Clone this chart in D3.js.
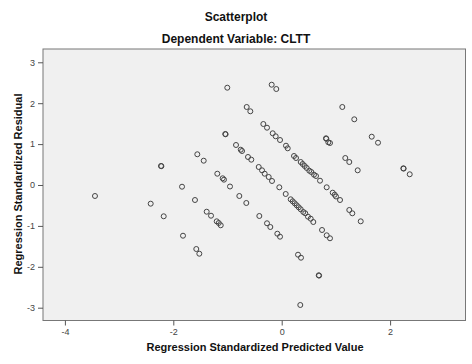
<!DOCTYPE html>
<html><head><meta charset="utf-8">
<script src="https://cdn.jsdelivr.net/npm/d3@7"></script>
<style>body{margin:0;background:#fff}text{font-family:"Liberation Sans",Arial,sans-serif}</style>
</head><body><svg id="c" width="472" height="364"></svg>
<script>
const title = "Scatterplot";
const subtitle = "Dependent Variable: CLTT";
const xTitle = "Regression Standardized Predicted Value";
const yTitle = "Regression Standardized Residual";
const xTicks = [-4, -2, 0, 2];
const yTicks = [-3, -2, -1, 0, 1, 2, 3];
const predicted = [
 -3.445,-2.417,-2.227,-2.22,-2.177,-1.839,-1.821,-1.600,-1.576,-1.520,-1.557,-1.439,-1.384,-1.304,-1.199,-1.162,-1.125,
 -1.188,-1.089,-1.065,-0.954,-1.041,-1.035,-1.004,-0.843,-0.756,-0.732,-0.622,-0.561,-0.782,-0.653,-0.646,-0.579,
 -0.424,-0.363,-0.314,-0.240,-0.179,-0.044,-0.413,-0.271,-0.210,-0.081,-0.031,-0.339,-0.271,-0.185,-0.100,-0.166,-0.111,-0.031,
 0.079,0.111,0.074,
 0.166,0.203,0.240,0.277,0.314,0.351,0.399,0.435,0.485,0.535,0.583,
 0.227,0.264,0.351,0.387,0.424,0.461,0.509,0.546,0.596,0.633,0.707,
 0.301,0.356,0.683,0.690,0.343,0.817,0.823,0.860,0.891,0.830,0.941,0.978,1.002,1.076,1.247,1.303,1.458,
 0.744,0.830,0.891,1.118,1.339,1.173,1.247,1.402,1.661,1.777,2.244,2.250,2.362
];
const residual = [
 -0.269,-0.457,0.465,0.46,-0.765,-0.042,-1.240,-0.367,-1.565,-1.680,0.751,0.594,-0.653,-0.751,-0.888,-0.929,-0.985,
 0.276,0.164,0.130,-0.037,1.247,1.240,2.379,0.978,0.863,0.831,0.685,0.619,-0.269,-0.440,1.907,1.802,
 0.440,0.359,0.276,0.196,0.098,-0.056,-0.758,-0.936,-1.027,-1.191,-1.264,1.491,1.401,2.452,2.347,1.264,1.191,1.100,
 0.961,0.897,-0.220,
 -0.350,-0.399,-0.447,-0.496,-0.545,-0.594,-0.660,-0.692,-0.775,-0.824,-0.905,
 0.709,0.660,0.562,0.513,0.465,0.416,0.350,0.318,0.252,0.220,0.105,
 -1.704,-1.778,-2.208,-2.215,-2.934,1.142,1.130,1.044,1.027,-0.056,-0.188,-0.237,-0.281,-0.367,-0.611,-0.692,-0.888,
 -1.100,-1.230,-1.303,1.907,1.606,0.660,0.562,0.359,1.181,1.034,0.408,0.400,0.262
];

const svg = d3.select("#c");
const L = 43, R = 465.5, T = 49, B = 320.5;
const x = d3.scaleLinear().domain([-4.404, 3.391]).range([L, R]);
const y = d3.scaleLinear().domain([-3.313, 3.325]).range([B, T]);

svg.append("rect").attr("x", L).attr("y", T).attr("width", R - L).attr("height", B - T)
  .attr("fill", "#f0f0f0").attr("stroke", "#777").attr("stroke-width", 1);

const xa = svg.append("g").attr("transform", `translate(0,${B})`)
  .call(d3.axisBottom(x).tickValues(xTicks).tickSize(5).tickPadding(3).tickFormat(d => String(d)));
const ya = svg.append("g").attr("transform", `translate(${L},0)`)
  .call(d3.axisLeft(y).tickValues(yTicks).tickSize(5).tickPadding(3).tickFormat(d => String(d)));
[xa, ya].forEach(a => {
  a.select(".domain").remove();
  a.selectAll(".tick line").attr("stroke", "#555");
  a.selectAll(".tick text").attr("fill", "#444").style("font-size", "9px").style("font-family", "Liberation Sans, Arial");
});

svg.append("g").selectAll("circle").data(predicted.map((p, i) => [p, residual[i]])).join("circle")
  .attr("cx", d => x(d[0])).attr("cy", d => y(d[1])).attr("r", 2.5)
  .attr("fill", "none").attr("stroke", "#444").attr("stroke-width", 1);

svg.append("text").attr("x", 236).attr("y", 21).attr("text-anchor", "middle")
  .style("font-size", "12px").style("font-weight", "bold").attr("fill", "#111").text(title);
svg.append("text").attr("x", 236).attr("y", 43).attr("text-anchor", "middle")
  .style("font-size", "12px").style("font-weight", "bold").attr("fill", "#111").text(subtitle);
svg.append("text").attr("x", 255).attr("y", 351).attr("text-anchor", "middle")
  .style("font-size", "11px").style("font-weight", "bold").attr("fill", "#111").text(xTitle);
svg.append("text").attr("transform", "translate(22,184) rotate(-90)").attr("text-anchor", "middle")
  .style("font-size", "11px").style("font-weight", "bold").attr("fill", "#111").text(yTitle);
</script></body></html>
